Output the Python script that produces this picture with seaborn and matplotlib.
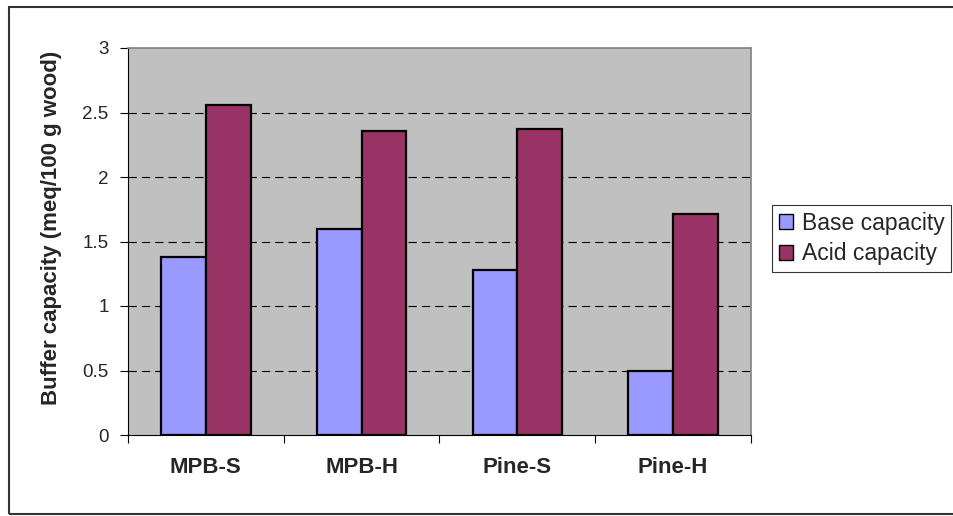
import matplotlib
matplotlib.use("Agg")
import matplotlib.pyplot as plt
from matplotlib.patches import Rectangle, Patch
from matplotlib.ticker import FixedLocator
import seaborn as sns
import pandas as pd

# Buffer capacity per wood sample (meq / 100 g wood)
samples = ["MPB-S", "MPB-H", "Pine-S", "Pine-H"]
base_capacity = [1.38, 1.60, 1.28, 0.50]
acid_capacity = [2.56, 2.36, 2.37, 1.71]
series_names = ["Base capacity", "Acid capacity"]
y_ticks = [0, 0.5, 1, 1.5, 2, 2.5, 3]

df = pd.DataFrame({
    "sample": samples * 2,
    "capacity": base_capacity + acid_capacity,
    "series": [series_names[0]] * len(samples) + [series_names[1]] * len(samples),
})

sns.set_theme(style="white")
plt.rcParams["font.family"] = ["Liberation Sans", "DejaVu Sans"]

fig = plt.figure(figsize=(9.54, 5.16), dpi=100)
ax = fig.add_axes([128 / 954, 1 - 435 / 516, (751 - 128) / 954, (435 - 48) / 516])
ax.set_facecolor("#C0C0C0")

palette = {series_names[0]: "#9999FF", series_names[1]: "#993366"}
sns.barplot(data=df, x="sample", y="capacity", hue="series", order=samples,
            hue_order=series_names, palette=palette, width=0.574, gap=0,
            edgecolor="black", linewidth=1.6, saturation=1, ax=ax, legend=False,
            zorder=3)

ax.set_ylim(0, 3)
ax.set_xlim(-0.5, len(samples) - 0.5)
ax.yaxis.set_major_locator(FixedLocator(y_ticks))
ax.set_yticklabels([f"{t:g}" for t in y_ticks], fontsize=13.5)

# dashed horizontal gridlines
for t in y_ticks[1:-1]:
    ax.axhline(t, color="black", linestyle=(0, (7.5, 4.5)), linewidth=0.8, zorder=1)

# category boundary ticks on the x axis, labels centred between them
ax.set_xticks(range(len(samples)))
ax.set_xticklabels(samples, fontsize=16, fontweight="bold")
ax.tick_params(axis="x", which="major", length=0, pad=16)
ax.xaxis.set_minor_locator(FixedLocator([i - 0.5 for i in range(len(samples) + 1)]))
ax.tick_params(axis="x", which="minor", length=6, width=0.8, color="black",
               direction="out", bottom=True)
ax.tick_params(axis="y", which="major", length=6, width=0.8, color="black",
               direction="out", left=True, pad=8)

ax.set_xlabel("")
ax.set_ylabel("Buffer capacity (meq/100 g wood)", fontsize=16, fontweight="bold")
ax.yaxis.set_label_coords((62 - 128) / 623, 0.535)

for side in ["top", "right"]:
    ax.spines[side].set_visible(True)
    ax.spines[side].set_color("#808080")
    ax.spines[side].set_linewidth(1.2)
for side in ["left", "bottom"]:
    ax.spines[side].set_visible(True)
    ax.spines[side].set_color("black")
    ax.spines[side].set_linewidth(0.8)

handles = [Patch(facecolor=palette[n], edgecolor="black", linewidth=1.0)
           for n in series_names]
leg = fig.legend(handles, series_names, loc="upper left",
                 bbox_to_anchor=(772 / 954, 1 - 205 / 516),
                 frameon=True, fancybox=False, fontsize=16.5,
                 handlelength=0.61, handleheight=0.61, handletextpad=0.39,
                 borderpad=0.3, labelspacing=0.33, borderaxespad=0)
leg.get_frame().set_edgecolor("black")
leg.get_frame().set_linewidth(0.8)

# outer chart border
fig.patches.append(Rectangle((9 / 954, 1 - 514 / 516), 1.0, (514 - 7) / 516,
                             transform=fig.transFigure, fill=False,
                             edgecolor="#333333", linewidth=1.5))

fig.savefig("out.png", dpi=100)
